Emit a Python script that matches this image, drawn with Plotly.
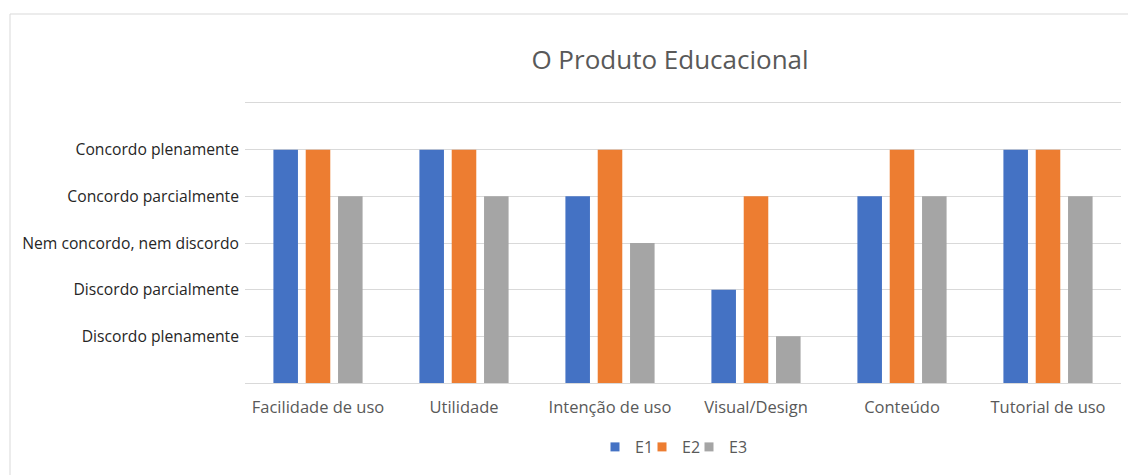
import plotly.graph_objects as go

categories = ["Facilidade de uso", "Utilidade", "Intenção de uso", "Visual/Design", "Conteúdo", "Tutorial de uso"]
e1 = [5, 5, 4, 2, 4, 5]
e2 = [5, 5, 5, 4, 5, 5]
e3 = [4, 4, 3, 1, 4, 4]
y_ticktext = ["", "Discordo plenamente", "Discordo parcialmente", "Nem concordo, nem discordo",
              "Concordo parcialmente", "Concordo plenamente", ""]
y_max = 6

series = [("E1", e1, "#4472C4"), ("E2", e2, "#ED7D31"), ("E3", e3, "#A5A5A5")]
legend_ids = ["legend", "legend2", "legend3"]

fig = go.Figure()
for name, vals, color in series:
    fig.add_trace(go.Bar(x=categories, y=vals, name=name, marker_color=color,
                         marker_line_width=0, showlegend=False, legendgroup=name))
# legend-only entries with small square symbols, one legend box per series
for (name, vals, color), lg in zip(series, legend_ids):
    fig.add_trace(go.Scatter(x=[None], y=[None], mode="markers", name=name, legendgroup=name,
                             legend=lg, marker=dict(symbol="square", size=9, color=color)))

W, H = 1128, 475
L, R, T, B = 245, 7, 103, 92
pw = W - L - R
ph = H - T - B

def px_x(x):
    return (x - L) / pw

def px_y(y):
    return (H - B - y) / ph

font_family = "Open Sans, Noto Sans, sans-serif"

legend_left_px = [595, 642, 689]
legend_layout = {}
for lg, lx in zip(legend_ids, legend_left_px):
    legend_layout[lg] = dict(orientation="h", x=px_x(lx), xanchor="left", y=px_y(447),
                             yanchor="middle", font=dict(size=16, color="#595959"),
                             itemwidth=30, itemclick=False, itemdoubleclick=False,
                             bgcolor="rgba(0,0,0,0)")

fig.update_layout(
    width=W, height=H,
    margin=dict(l=L, r=R, t=T, b=B),
    paper_bgcolor="white", plot_bgcolor="white",
    barmode="group", bargap=0.336, bargroupgap=0.24,
    font=dict(family=font_family, color="#595959", size=13),
    title=dict(text="O Produto Educacional", x=670 / W, xanchor="center", xref="container",
               y=1 - 60 / H, yanchor="middle", yref="container",
               font=dict(size=26, color="#595959", family=font_family)),
    showlegend=True,
    xaxis=dict(showgrid=False, showline=True, mirror=True, linecolor="#d9d9d9", linewidth=1,
               ticks="", tickfont=dict(size=16.5, color="#595959"), ticklabelstandoff=9,
               fixedrange=True),
    yaxis=dict(range=[0, y_max], tickvals=[0, 1, 2, 3, 4, 5, 6], ticktext=y_ticktext,
               showgrid=True, gridcolor="#d9d9d9", gridwidth=1, zeroline=False,
               showline=False, ticks="", tickfont=dict(size=15.7, color="#262626"),
               ticklabelstandoff=5, fixedrange=True),
    shapes=[
        dict(type="rect", xref="paper", yref="paper",
             x0=px_x(10), x1=px_x(1140), y0=px_y(490), y1=px_y(14),
             line=dict(color="#d9d9d9", width=1), fillcolor="rgba(0,0,0,0)", layer="below"),
    ],
    **legend_layout,
)

fig.write_html("out.html")
